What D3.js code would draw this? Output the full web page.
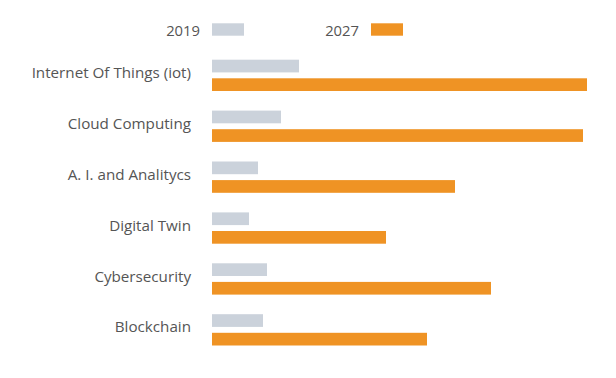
<!DOCTYPE html>
<html><head><meta charset="utf-8">
<script src="https://cdn.jsdelivr.net/npm/d3@7"></script>
<style>body{margin:0;background:#fff}text{font-family:"Open Sans",sans-serif}</style>
</head><body><svg id="c" width="616" height="378"></svg>
<script>
const categories = ["Internet Of Things (iot)","Cloud Computing","A. I. and Analitycs","Digital Twin","Cybersecurity","Blockchain"];
const series = ["2019","2027"];
const values2019 = [87, 69, 46, 37, 55, 51];
const values2027 = [375, 371, 243, 174, 279, 215];
const colors = ["#cbd2db","#ef9324"];

const svg = d3.select("#c");
const x = d3.scaleLinear().domain([0, 375]).range([212, 587]);
const y = d3.scaleBand().domain(categories).range([59.7, 59.7 + 50.9*6]).paddingInner(0).paddingOuter(0);
const sub = d3.scaleBand().domain(series).range([0, 31.3]).paddingInner(0.317);
const data = categories.map((c,i)=>({c, v:[values2019[i], values2027[i]]}));

const g = svg.append("g");
const rows = g.selectAll("g.row").data(data).join("g").attr("transform", d=>`translate(0,${y(d.c)})`);
rows.selectAll("rect").data(d=>d.v.map((v,j)=>({s:series[j], v, j}))).join("rect")
  .attr("x", x(0)).attr("y", d=>sub(d.s)).attr("width", d=>x(d.v)-x(0)).attr("height", sub.bandwidth())
  .attr("fill", d=>colors[d.j]);
rows.append("text").attr("x", 191).attr("y", 18.3).attr("text-anchor","end")
  .attr("font-size", 15.2).attr("fill", "#555").text(d=>d.c);

// legend
const legX = [212, 371];
series.forEach((s,i)=>{
  svg.append("rect").attr("x", legX[i]).attr("y", 23.3).attr("width", 32).attr("height", 12.4).attr("fill", colors[i]);
  svg.append("text").attr("x", legX[i]-12).attr("y", 35.5).attr("text-anchor","end")
    .attr("font-size", 14.8).attr("fill","#555").text(s);
});
</script></body></html>
